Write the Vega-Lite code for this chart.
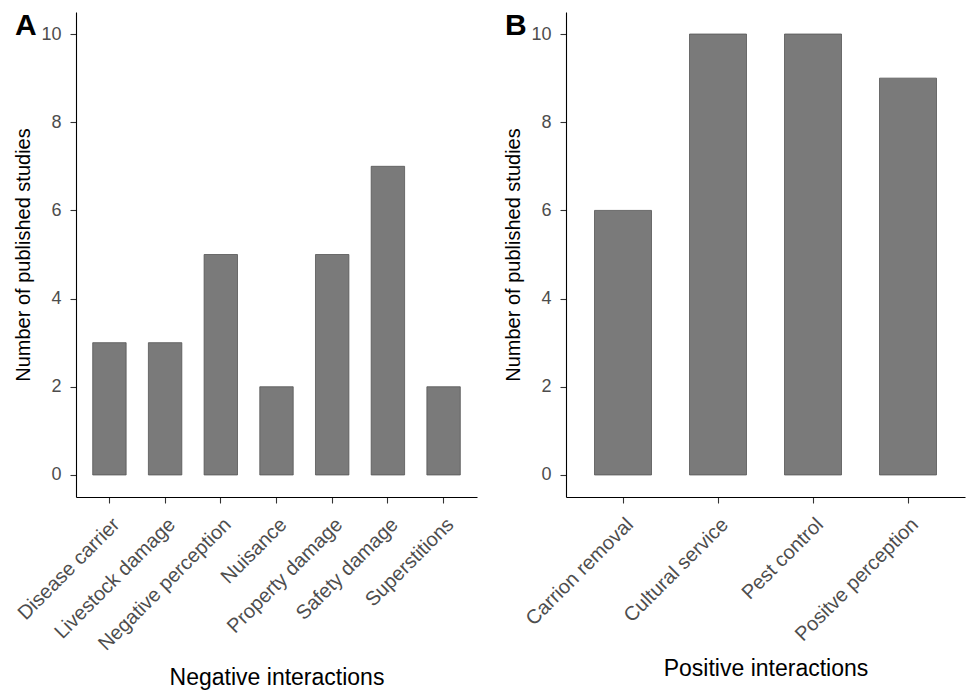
{
  "$schema": "https://vega.github.io/schema/vega-lite/v6.json",
  "padding": {"left": 13, "top": 11, "right": 4, "bottom": 5},
  "background": "white",
  "spacing": 26,
  "config": {
    "view": {"stroke": null},
    "font": "Liberation Sans",
    "axis": {
      "grid": false,
      "domainColor": "#000000",
      "domainWidth": 1.1,
      "tickColor": "#333333",
      "tickWidth": 1.1,
      "tickSize": 6,
      "labelColor": "#4d4d4d",
      "labelFont": "Liberation Sans",
      "titleFont": "Liberation Sans",
      "titleColor": "#000000",
      "titleFontWeight": "normal"
    },
    "title": {"font": "Liberation Sans"}
  },
  "hconcat": [
    {
      "width": 401,
      "height": 485,
      "title": {"text": "A", "anchor": "start", "frame": "group", "orient": "top", "offset": -29, "dx": -61, "baseline": "top", "fontSize": 30, "fontWeight": "bold", "color": "#000000"},
      "data": {"values": [
        {"category": "Disease carrier", "count": 3},
        {"category": "Livestock damage", "count": 3},
        {"category": "Negative perception", "count": 5},
        {"category": "Nuisance", "count": 2},
        {"category": "Property damage", "count": 5},
        {"category": "Safety damage", "count": 7},
        {"category": "Superstitions", "count": 2}
      ]},
      "mark": {"type": "bar", "color": "#7a7a7a", "stroke": "#555555", "strokeWidth": 0.8},
      "encoding": {
        "x": {"field": "category", "type": "nominal", "sort": null,
          "scale": {"paddingInner": 0.4, "paddingOuter": 0.3},
          "axis": {"title": "Negative interactions", "labelAngle": -45, "labelFontSize": 20, "labelPadding": 11, "titleFontSize": 23, "titlePadding": 13}},
        "y": {"field": "count", "type": "quantitative",
          "scale": {"domain": [-0.5, 10.5], "nice": false, "zero": false},
          "axis": {"title": "Number of published studies", "values": [0, 2, 4, 6, 8, 10], "labelFontSize": 18, "labelPadding": 9, "titleFontSize": 20, "titlePadding": 7}}
      }
    },
    {
      "width": 399,
      "height": 485,
      "title": {"text": "B", "anchor": "start", "frame": "group", "orient": "top", "offset": -29, "dx": -61, "baseline": "top", "fontSize": 30, "fontWeight": "bold", "color": "#000000"},
      "data": {"values": [
        {"category": "Carrion removal", "count": 6},
        {"category": "Cultural service", "count": 10},
        {"category": "Pest control", "count": 10},
        {"category": "Positve perception", "count": 9}
      ]},
      "mark": {"type": "bar", "color": "#7a7a7a", "stroke": "#555555", "strokeWidth": 0.8},
      "encoding": {
        "x": {"field": "category", "type": "nominal", "sort": null,
          "scale": {"paddingInner": 0.4, "paddingOuter": 0.3},
          "axis": {"title": "Positive interactions", "labelAngle": -45, "labelFontSize": 20, "labelPadding": 11, "titleFontSize": 23, "titlePadding": 13}},
        "y": {"field": "count", "type": "quantitative",
          "scale": {"domain": [-0.5, 10.5], "nice": false, "zero": false},
          "axis": {"title": "Number of published studies", "values": [0, 2, 4, 6, 8, 10], "labelFontSize": 18, "labelPadding": 9, "titleFontSize": 20, "titlePadding": 7}}
      }
    }
  ]
}
